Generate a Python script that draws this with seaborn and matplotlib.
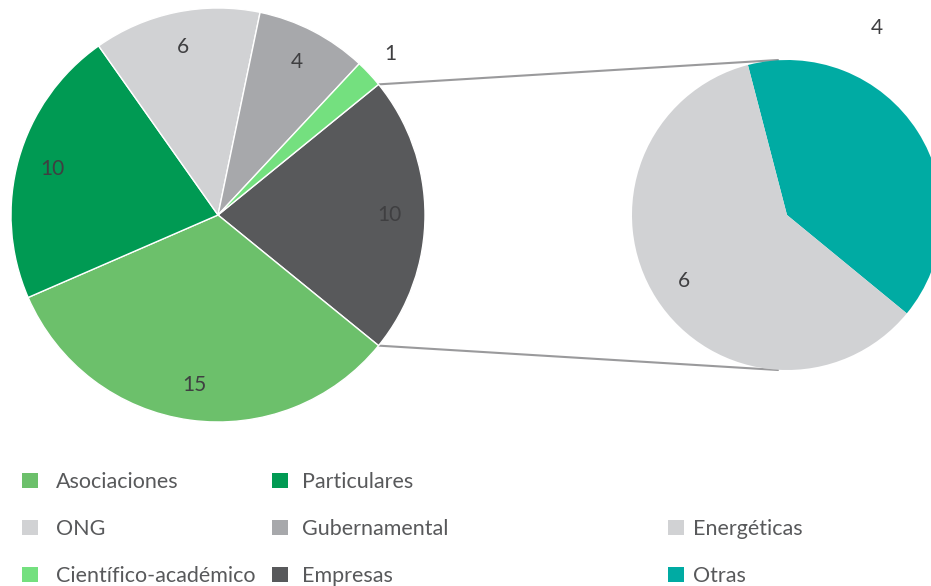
import matplotlib
matplotlib.use("Agg")
import matplotlib.pyplot as plt
import seaborn as sns
import numpy as np
from matplotlib.patches import Patch

# ---- data ----
main_labels = ["Empresas", "Asociaciones", "Particulares", "ONG", "Gubernamental", "Científico-académico"]
main_values = [10, 15, 10, 6, 4, 1]
main_colors = ["#58595B", "#6CC06B", "#009A53", "#D1D2D4", "#A7A8AB", "#74E07F"]

sub_labels = ["Otras", "Energéticas"]
sub_values = [4, 6]
sub_colors = ["#00ABA3", "#D1D2D4"]

legend_cols = [
    ["Asociaciones", "ONG", "Científico-académico"],
    ["Particulares", "Gubernamental", "Empresas"],
    ["", "Energéticas", "Otras"],
]

sns.set_theme(style="white")
plt.rcParams["font.family"] = ["Lato", "DejaVu Sans"]

W, H = 931, 586
fig = plt.figure(figsize=(W / 100, H / 100), dpi=100)
ax = fig.add_axes([0, 0, 1, 1])

txt_color = "#3F3F41"
leg_color = "#58595B"

# main pie
c1 = (218, H - 215)
r1 = 207
total = sum(main_values)
start1 = 360 * main_values[0] / total / 2
wedges1, texts1 = ax.pie(main_values, colors=sns.color_palette(main_colors), center=c1, radius=r1,
                         startangle=start1, counterclock=False, labels=[str(v) for v in main_values],
                         labeldistance=0.83, frame=True,
                         wedgeprops=dict(edgecolor="white", linewidth=1.0),
                         textprops=dict(fontsize=15, color=txt_color, ha="center", va="center"))
# small slice label outside
small = main_values.index(min(main_values))
w = wedges1[small]
ang = np.deg2rad((w.theta1 + w.theta2) / 2)
texts1[small].set_position((c1[0] + 1.14 * r1 * np.cos(ang), c1[1] + 1.14 * r1 * np.sin(ang)))

# secondary pie
c2 = (787, H - 215)
r2 = 155
start2 = 104.6
wedges2, texts2 = ax.pie(sub_values, colors=sns.color_palette(sub_colors), center=c2, radius=r2,
                         startangle=start2, counterclock=False, labels=[str(v) for v in sub_values],
                         labeldistance=0.79, frame=True,
                         wedgeprops=dict(edgecolor="white", linewidth=0.0),
                         textprops=dict(fontsize=15, color=txt_color, ha="center", va="center"))
# "Otras" label placed above right
a2 = np.deg2rad(64.4)
texts2[0].set_position((c2[0] + 1.34 * r2 * np.cos(a2), c2[1] + 1.34 * r2 * np.sin(a2)))

# connector lines from the Empresas wedge edges to top/bottom of secondary pie
we = wedges1[0]
for th, sign in ((we.theta1, -1), (we.theta2, 1)):
    t = np.deg2rad(th)
    x0, y0 = c1[0] + r1 * np.cos(t), c1[1] + r1 * np.sin(t)
    x1, y1 = c2[0] - 9, c2[1] + sign * r2
    ax.plot([x0, x1], [y0, y1], color="#9A9A9C", lw=1.5, zorder=0.5)

ax.set_xlim(0, W)
ax.set_ylim(0, H)
ax.set_aspect("equal")
ax.axis("off")

# legends
lookup = dict(zip(main_labels + sub_labels, main_colors + sub_colors))
anchors = [(22, 472), (272, 472), (668, 472)]
pads = [0.85, 0.68, 0.45]
for col, (ax_x, ax_y), pad in zip(legend_cols, anchors, pads):
    handles = []
    for lab in col:
        if lab:
            handles.append(Patch(facecolor=lookup[lab], edgecolor="none", label=lab))
        else:
            handles.append(Patch(facecolor="none", edgecolor="none", label=" "))
    leg = ax.legend(handles=handles, loc="upper left", bbox_to_anchor=(ax_x / W, 1 - ax_y / H),
                    bbox_transform=fig.transFigure, frameon=False, fontsize=15.5,
                    handlelength=0.72, handleheight=0.72, handletextpad=pad,
                    labelspacing=1.25, borderpad=0, borderaxespad=0)
    for t in leg.get_texts():
        t.set_color(leg_color)
    ax.add_artist(leg)
ax.legend_ = None

fig.savefig("out.png", dpi=100)
